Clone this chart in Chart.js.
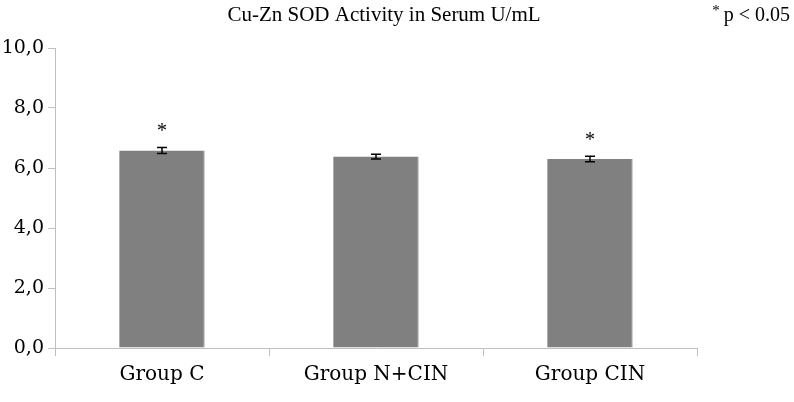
<!DOCTYPE html>
<html>
<head>
<meta charset="utf-8">
<script src="https://cdn.jsdelivr.net/npm/chart.js@4.4.0/dist/chart.umd.min.js"></script>
<style>
  html, body { margin: 0; padding: 0; background: #fff; }
  #wrap { width: 794px; height: 402px; }
</style>
</head>
<body>
<div id="wrap"><canvas id="myChart"></canvas></div>
<script>
// Data
const groups = ["Group C", "Group N+CIN", "Group CIN"];
const sodValues = [6.58, 6.38, 6.3];
const sodErrors = [0.1, 0.08, 0.09];
const significant = [true, false, true];
const yTicks = [0, 2, 4, 6, 8, 10];

const serif = "'Liberation Serif', serif";
const wideSerif = "'DejaVu Serif', serif";

// Error bars + asterisks + headline texts
const extrasPlugin = {
    id: "extras",
    afterDatasetsDraw(chart) {
        const { ctx, scales } = chart;
        const meta = chart.getDatasetMeta(0);
        ctx.save();
        meta.data.forEach((bar, i) => {
            const x = bar.x;
            const yTop = scales.y.getPixelForValue(sodValues[i] + sodErrors[i]);
            const yBot = scales.y.getPixelForValue(sodValues[i] - sodErrors[i]);
            ctx.strokeStyle = "#000";
            ctx.lineWidth = 1.5;
            ctx.beginPath();
            ctx.moveTo(x, yTop);
            ctx.lineTo(x, yBot);
            ctx.moveTo(x - 5, yTop);
            ctx.lineTo(x + 5, yTop);
            ctx.moveTo(x - 5, yBot);
            ctx.lineTo(x + 5, yBot);
            ctx.stroke();
            if (significant[i]) {
                ctx.fillStyle = "#000";
                ctx.font = "20px " + serif;
                ctx.textAlign = "center";
                ctx.textBaseline = "middle";
                ctx.fillText("*", x, yTop - 16);
            }
        });
        ctx.fillStyle = "#000";
        ctx.textBaseline = "middle";
        ctx.textAlign = "center";
        ctx.font = "21px " + serif;
        ctx.fillText("Cu-Zn SOD Activity in Serum U/mL", 384, 15);
        ctx.textAlign = "right";
        ctx.font = "20px " + serif;
        ctx.fillText("p < 0.05", 790, 16);
        const pw = ctx.measureText("p < 0.05").width;
        ctx.font = "15px " + serif;
        ctx.fillText("*", 790 - pw - 4, 11);
        ctx.restore();
    }
};

const ctx = document.getElementById("myChart").getContext("2d");
const myChart = new Chart(ctx, {
    type: "bar",
    data: {
        labels: groups,
        datasets: [
            {
                data: sodValues,
                backgroundColor: "#808080",
                borderColor: "#b0b0b0",
                borderWidth: { top: 0, left: 0, right: 1, bottom: 0 },
                barPercentage: 0.4,
                categoryPercentage: 1.0,
            },
        ],
    },
    options: {
        responsive: true,
        maintainAspectRatio: false,
        animation: false,
        layout: { padding: { top: 48, right: 97, left: 0, bottom: 0 } },
        plugins: {
            legend: { display: false },
            tooltip: { enabled: false },
        },
        scales: {
            x: {
                grid: {
                    offset: true,
                    drawOnChartArea: false,
                    tickLength: 8,
                    color: "#bfbfbf",
                },
                border: { color: "#bfbfbf" },
                ticks: {
                    color: "#000",
                    font: { family: wideSerif, size: 20 },
                    padding: 7,
                },
                afterFit(scale) { scale.height = 54; },
            },
            y: {
                min: 0,
                max: 10,
                afterBuildTicks(scale) {
                    scale.ticks = yTicks.map((v) => ({ value: v }));
                },
                grid: {
                    drawOnChartArea: false,
                    tickLength: 7,
                    color: "#bfbfbf",
                },
                border: { color: "#bfbfbf" },
                ticks: {
                    color: "#000",
                    font: { family: wideSerif, size: 19 },
                    padding: 4,
                    callback: (v) => v.toFixed(1).replace(".", ","),
                },
                afterFit(scale) { scale.width = 55; },
            },
        },
    },
    plugins: [extrasPlugin],
});
</script>
</body>
</html>
